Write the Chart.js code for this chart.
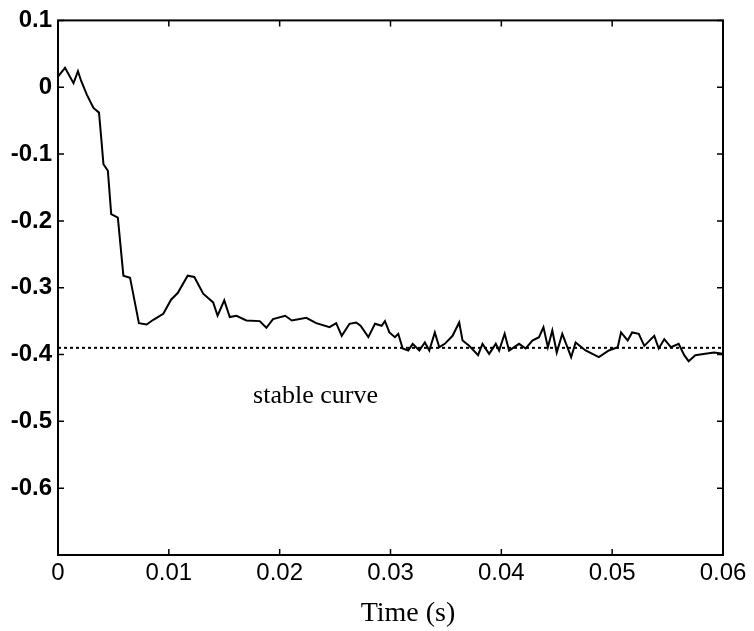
<!DOCTYPE html>
<html>
<head>
<meta charset="utf-8">
<script src="https://cdn.jsdelivr.net/npm/chart.js@4.4.0/dist/chart.umd.min.js"></script>
<style>
  html, body { margin: 0; padding: 0; background: #fff; }
  #wrap { width: 754px; height: 631px; }
</style>
</head>
<body>
<div id="wrap"><canvas id="responseChart"></canvas></div>
<script>
// time (s) and response
const timeData = [
  0, 0.00063, 0.0014, 0.0018, 0.0021, 0.0026, 0.0032, 0.0037, 0.0039, 0.0041,
  0.0045, 0.0048, 0.0054, 0.0059, 0.0065, 0.0073, 0.0080, 0.0086, 0.0095, 0.0102,
  0.0108, 0.0117, 0.0123, 0.0131, 0.0140, 0.0144, 0.0150, 0.0155, 0.0161, 0.0170,
  0.0182, 0.0188, 0.0194, 0.0205, 0.0211, 0.0224, 0.0233, 0.0245, 0.0251, 0.0256,
  0.0263, 0.0269, 0.0273, 0.0280, 0.0286, 0.0292, 0.0295, 0.0299, 0.0304, 0.0307,
  0.0311, 0.0316, 0.0320, 0.0326, 0.0331, 0.0335, 0.0340, 0.0344, 0.0349, 0.0356,
  0.0362, 0.0365, 0.0371, 0.0379, 0.0383, 0.0389, 0.0395, 0.0398, 0.0403, 0.0407,
  0.0416, 0.0422, 0.0428, 0.0434, 0.0438, 0.0442, 0.0446, 0.0450, 0.0455, 0.0463,
  0.0467, 0.0476, 0.0488, 0.0497, 0.0505, 0.0508, 0.0514, 0.0518, 0.0524, 0.0529,
  0.0538, 0.0542, 0.0547, 0.0553, 0.0560, 0.0565, 0.0569, 0.0575, 0.0584, 0.0592,
  0.0600
];
const signalData = [
  0.016, 0.029, 0.006, 0.024, 0.009, -0.011, -0.031, -0.038, -0.076, -0.115,
  -0.125, -0.190, -0.195, -0.282, -0.285, -0.353, -0.355, -0.348, -0.339, -0.318,
  -0.308, -0.282, -0.284, -0.309, -0.322, -0.342, -0.319, -0.344, -0.342, -0.349,
  -0.350, -0.360, -0.347, -0.342, -0.349, -0.345, -0.353, -0.359, -0.353, -0.372,
  -0.354, -0.352, -0.357, -0.374, -0.354, -0.357, -0.350, -0.367, -0.374, -0.369,
  -0.391, -0.394, -0.384, -0.394, -0.382, -0.394, -0.367, -0.389, -0.384, -0.372,
  -0.352, -0.379, -0.387, -0.401, -0.384, -0.399, -0.384, -0.394, -0.369, -0.394,
  -0.384, -0.391, -0.379, -0.374, -0.359, -0.389, -0.364, -0.397, -0.369, -0.404,
  -0.382, -0.394, -0.404, -0.394, -0.389, -0.367, -0.379, -0.367, -0.369, -0.387,
  -0.372, -0.391, -0.377, -0.389, -0.384, -0.401, -0.410, -0.401, -0.399, -0.397,
  -0.399
];
const stableLevel = -0.39;
const stableLabel = 'stable curve';
const stableLabelAt = [0.0176, -0.462];

const xTicks = [0, 0.01, 0.02, 0.03, 0.04, 0.05, 0.06];
const xTickLabels = ['0', '0.01', '0.02', '0.03', '0.04', '0.05', '0.06'];
const yTicks = [0.1, 0, -0.1, -0.2, -0.3, -0.4, -0.5, -0.6, -0.7];
const yTickLabels = ['0.1', '0', '-0.1', '-0.2', '-0.3', '-0.4', '-0.5', '-0.6', ''];

// box frame, inward ticks on all four sides, and the note under the dotted line
const framePlugin = {
  id: 'frame',
  afterDraw(chart) {
    const ctx = chart.ctx;
    const a = chart.chartArea;
    const xs = chart.scales.x, ys = chart.scales.y;
    ctx.save();
    ctx.strokeStyle = '#000';
    ctx.lineWidth = 2;
    ctx.strokeRect(a.left, a.top, a.right - a.left, a.bottom - a.top);
    ctx.lineWidth = 1.5;
    ctx.beginPath();
    xTicks.forEach(v => {
      const px = xs.getPixelForValue(v);
      ctx.moveTo(px, a.bottom); ctx.lineTo(px, a.bottom - 6);
      ctx.moveTo(px, a.top); ctx.lineTo(px, a.top + 6);
    });
    yTicks.forEach(v => {
      const py = ys.getPixelForValue(v);
      ctx.moveTo(a.left, py); ctx.lineTo(a.left + 6, py);
      ctx.moveTo(a.right, py); ctx.lineTo(a.right - 6, py);
    });
    ctx.stroke();
    ctx.fillStyle = '#000';
    ctx.font = '26px "Liberation Serif", "Times New Roman", serif';
    ctx.textBaseline = 'middle';
    ctx.textAlign = 'left';
    ctx.fillText(stableLabel, xs.getPixelForValue(stableLabelAt[0]), ys.getPixelForValue(stableLabelAt[1]));
    ctx.restore();
  }
};

const ctx = document.getElementById('responseChart');
new Chart(ctx, {
  type: 'line',
  data: {
    datasets: [{
      label: 'response',
      data: timeData.map((t, i) => ({ x: t, y: signalData[i] })),
      borderColor: '#000',
      borderWidth: 2,
      pointRadius: 0,
      tension: 0,
      fill: false
    },
    {
      label: 'stable',
      data: [{ x: xTicks[0], y: stableLevel }, { x: xTicks[xTicks.length - 1], y: stableLevel }],
      borderColor: '#000',
      borderWidth: 2,
      borderDash: [3, 3],
      pointRadius: 0,
      fill: false
    }]
  },
  options: {
    responsive: true,
    maintainAspectRatio: false,
    animation: false,
    events: [],
    layout: {
      padding: { left: 0, right: 31, top: 20, bottom: 0 }
    },
    plugins: {
      legend: { display: false },
      tooltip: { enabled: false }
    },
    scales: {
      x: {
        type: 'linear',
        min: 0,
        max: 0.06,
        afterBuildTicks: (scale) => { scale.ticks = xTicks.map(v => ({ value: v })); },
        afterFit: (scale) => { scale.height = 76; },
        grid: { display: false, drawTicks: false },
        border: { display: false },
        ticks: {
          color: '#000',
          padding: 4,
          maxRotation: 0,
          font: { family: '"Liberation Sans", Arial, sans-serif', size: 24 },
          callback: (v) => xTickLabels[xTicks.indexOf(v)]
        },
        title: {
          display: true,
          text: '     Time (s)',
          color: '#000',
          padding: { top: 0, bottom: 1 },
          font: { family: '"Liberation Serif", "Times New Roman", serif', size: 28 }
        }
      },
      y: {
        type: 'linear',
        min: -0.7,
        max: 0.1,
        afterBuildTicks: (scale) => { scale.ticks = yTicks.map(v => ({ value: v })); },
        afterFit: (scale) => { scale.width = 58; },
        grid: { display: false, drawTicks: false },
        border: { display: false },
        ticks: {
          color: '#000',
          padding: 6,
          font: { family: '"Liberation Sans", Arial, sans-serif', size: 24, weight: 'bold' },
          callback: (v) => yTickLabels[yTicks.indexOf(v)]
        }
      }
    }
  },
  plugins: [framePlugin]
});
</script>
</body>
</html>
